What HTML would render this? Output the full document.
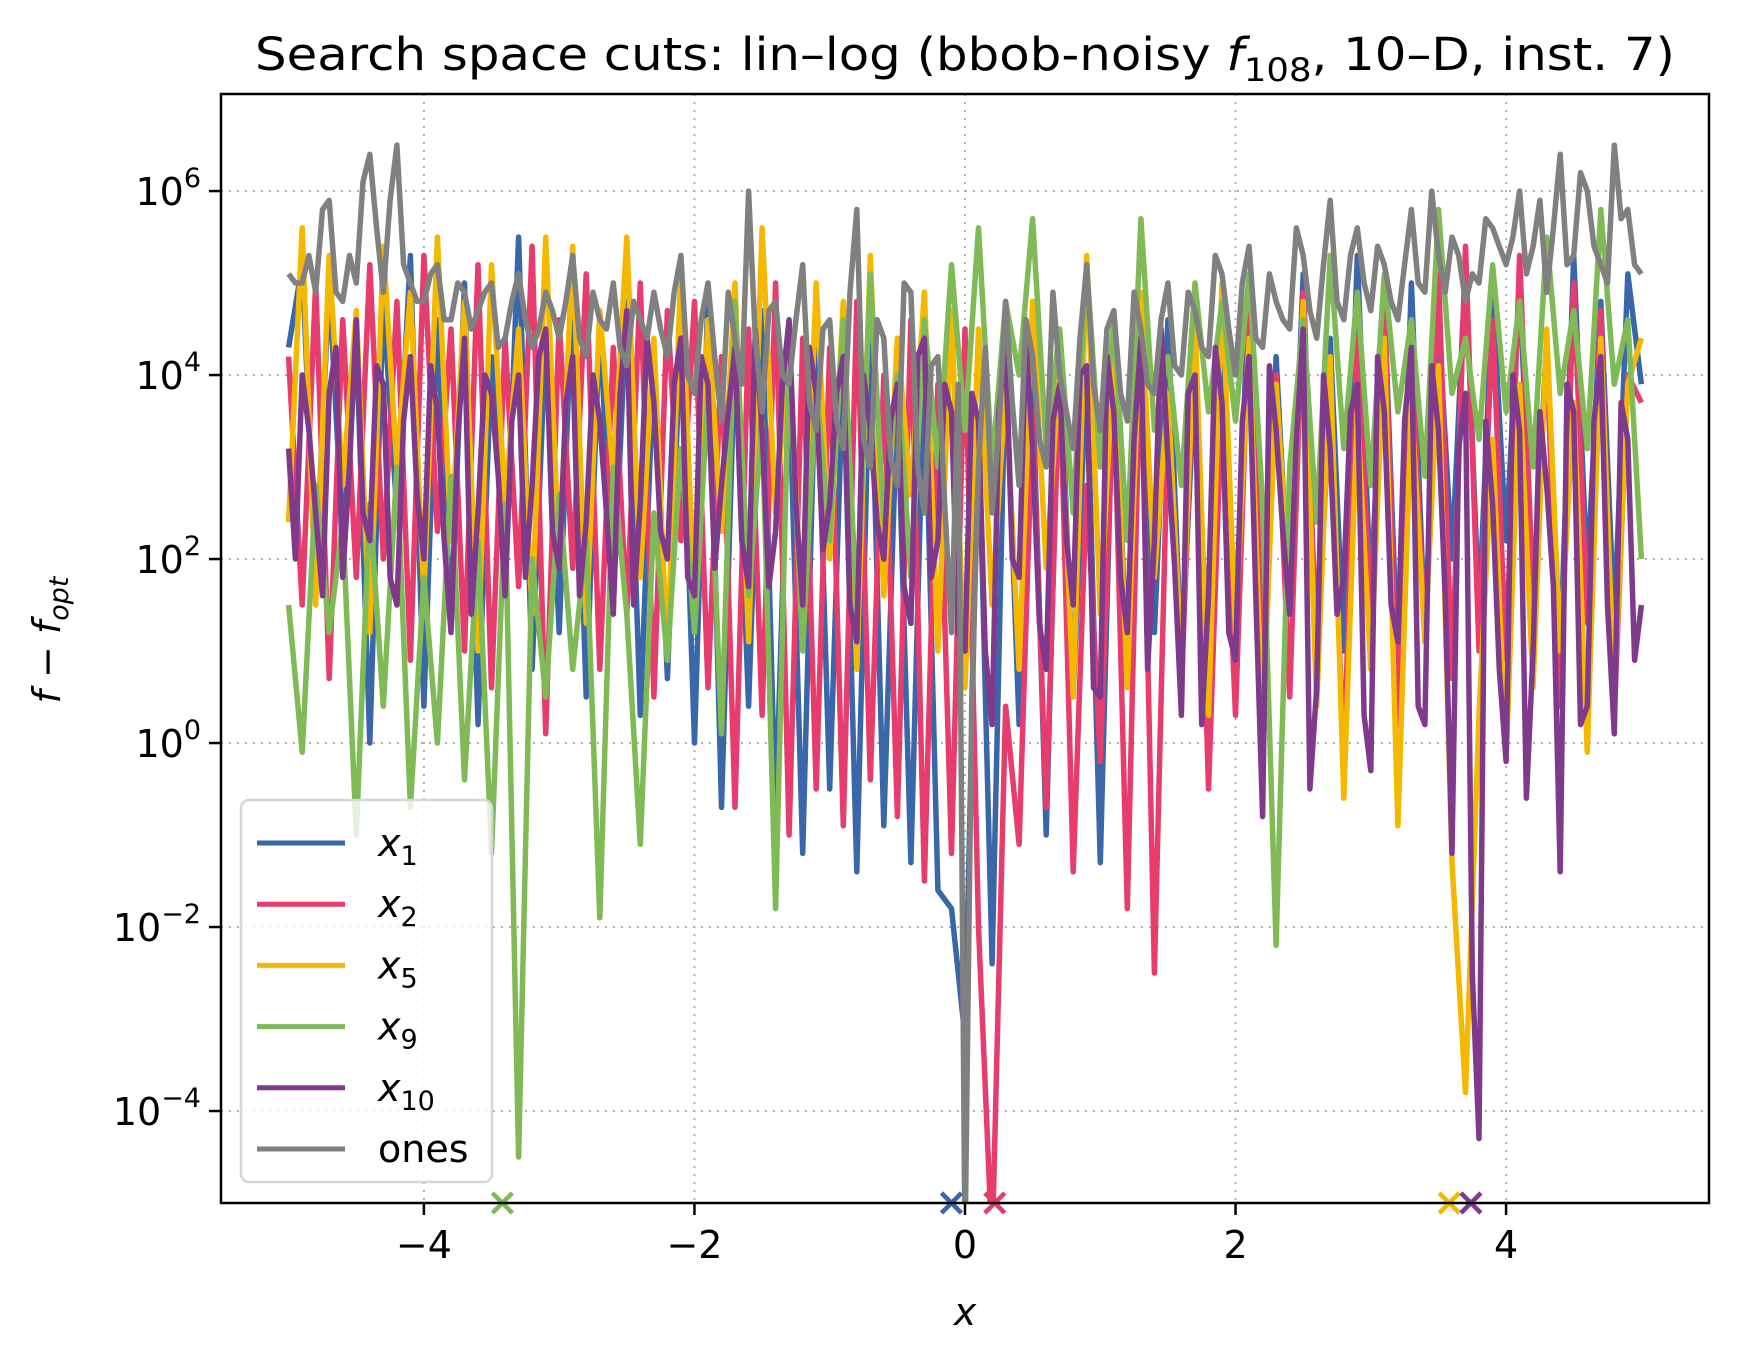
<!DOCTYPE html>
<html><head><meta charset="utf-8"><style>
html,body{margin:0;padding:0;background:#fff;}
svg{display:block;font-family:"DejaVu Sans","Liberation Sans",sans-serif;}
</style></head><body>
<svg id="chart" width="1738" height="1359" viewBox="0 0 1738 1359" xmlns="http://www.w3.org/2000/svg">
<text x="965" y="70" font-size="45" text-anchor="middle" textLength="1420" lengthAdjust="spacingAndGlyphs">Search space cuts: lin–log (bbob-noisy <tspan font-style="italic">f</tspan><tspan font-size="32" dy="11">108</tspan><tspan dy="-11">, 10–D, inst. 7)</tspan></text>
<defs><clipPath id="plotclip"><rect x="221" y="94" width="1488" height="1109"/></clipPath></defs>
<g id="grid"></g>
<g id="series" clip-path="url(#plotclip)"></g>
<g id="markers"></g>
<rect x="221" y="94" width="1488" height="1109" fill="none" stroke="#000" stroke-width="2.5"/>
<g id="axes"></g>
<text x="965" y="1325" font-size="38" font-style="italic" text-anchor="middle">x</text>
<text transform="translate(60,640) rotate(-90)" font-size="38" text-anchor="middle"><tspan font-style="italic">f</tspan> − <tspan font-style="italic">f</tspan><tspan font-size="27" dy="8" font-style="italic">opt</tspan></text>
<g id="legend"></g>
</svg>
<script>
const xTicks=[-4,-2,0,2,4];
const xTickLabels=["−4","−2","0","2","4"];
const yTickExps=[6,4,2,0,-2,-4];
const seriesNames=["x1","x2","x5","x9","x10","ones"];
const seriesColors=["#3a66aa","#e63c6e","#f5b800","#7fba57","#7f3a8c","#808080"];
const xStart=-5, xStep=0.1;
// values stored as log10(f - fopt)
const x1Log=[4.3,5.2,1.8,5.0,2.2,4.4,0.0,4.8,2.5,5.3, 0.4,4.6,1.3,5.0,0.2,4.2,1.7,5.5,0.8,4.4, 1.2,5.0,0.5,4.6,1.5,4.8,0.3,4.2,0.7,4.5, 0.0,4.9,-0.7,4.3,0.4,4.7,-0.8,4.0,-1.2,4.4, -0.5,4.1,-1.4,4.5,-0.9,3.8,-1.3,4.2,-1.6,-1.8, -3.2,3.5,-2.4,4.2,0.2,3.9,-1.0,4.4,0.5,4.1, -1.3,4.3,0.8,3.7,1.2,4.6,0.9,4.0,0.7,4.5, 1.3,5.0,0.6,4.2,1.4,5.1,0.5,4.4,1.0,5.3, 1.6,4.8,0.8,5.0,1.2,4.6,2.0,5.2,1.4,4.9, 2.2,5.0,1.5,4.4,0.9,5.3,1.8,4.8,1.3,5.1, 3.9];
const x2Log=[4.2,1.5,5.0,0.7,4.6,1.8,5.2,2.0,4.8,0.9, 5.3,2.3,4.5,1.0,5.2,0.6,4.4,1.7,5.4,0.1, 4.6,1.9,5.1,0.8,4.3,1.4,5.0,0.5,4.7,2.2, 4.8,0.6,4.2,-0.7,4.5,0.3,5.0,-1.0,4.4,-0.5, 4.3,-0.9,4.8,-0.4,4.0,-0.8,4.6,-1.5,3.9,-1.2, 4.5,-2.0,-5.5,0.4,-1.1,3.6,-0.7,4.1,-1.4,2.8, -0.2,3.9,-1.8,4.5,-2.5,3.5,0.6,4.6,-0.5,3.8, 0.3,4.7,1.2,4.0,0.5,4.9,1.0,3.7,-0.2,4.4, 1.4,4.8,0.2,4.3,1.1,5.1,0.7,5.4,1.0,4.6, 0.9,5.3,1.6,4.2,0.4,5.0,1.3,4.7,0.3,4.0, 3.7];
const x5Log=[2.4,5.6,1.5,5.3,2.8,4.7,1.2,5.4,3.0,4.9, 1.6,5.5,2.2,4.8,1.0,5.2,2.6,4.5,1.4,5.5, 2.0,5.4,1.3,4.7,2.9,5.5,1.8,4.4,0.9,5.2, 1.5,4.6,2.3,5.0,1.1,5.6,2.5,4.3,1.2,5.0, 2.0,4.8,0.8,5.3,1.6,4.4,2.7,4.9,1.0,4.7, 0.6,4.5,1.5,3.9,0.8,4.8,1.9,4.1,0.5,5.3, 1.4,4.3,0.6,4.9,1.8,3.8,0.9,4.6,0.3,5.0, 1.2,4.4,0.1,3.9,1.6,4.8,0.4,4.2,-0.6,3.6, 0.8,4.4,-0.9,3.7,1.1,4.1,-1.3,-3.8,0.3,3.3, -0.2,3.9,0.6,4.5,1.0,3.7,-0.1,4.4,0.5,3.9, 4.4];
const x9Log=[1.5,-0.1,2.8,1.2,2.4,-1.0,2.6,0.4,3.0,-0.7, 1.8,0.0,2.9,-0.4,2.2,-1.2,2.6,-4.5,2.0,0.5, 2.7,0.8,2.2,-1.9,3.0,1.4,-1.1,2.5,0.9,3.2, 1.2,3.8,0.1,4.8,1.6,3.5,-1.8,4.2,1.0,3.9, 2.2,4.6,1.4,5.1,2.4,4.0,1.8,4.6,3.0,5.2, 3.4,5.6,3.0,4.8,4.0,5.7,3.2,4.5,2.5,5.2, 3.0,4.6,2.2,5.7,3.4,4.2,2.8,5.0,3.6,4.8, 3.5,5.1,2.6,-2.2,3.0,4.6,2.4,5.3,3.2,4.9, 2.8,5.1,3.6,4.6,2.9,5.8,3.8,4.4,3.3,5.2, 3.6,4.8,3.0,5.5,3.8,4.7,3.2,5.8,3.9,4.6, 2.0];
const x10Log=[3.2,4.0,2.5,3.8,1.8,4.6,2.2,3.9,1.5,4.2, 2.0,3.6,1.2,4.4,2.5,3.8,1.6,4.0,2.8,4.5, 1.9,4.2,2.4,3.5,1.4,4.7,2.6,3.7,2.0,4.4, 1.6,3.9,2.8,4.3,1.7,3.4,2.3,4.6,1.5,3.8, 2.6,4.2,1.1,3.4,2.0,3.9,1.3,4.4,2.2,3.6, 1.0,3.5,0.2,4.3,1.8,3.2,0.8,3.9,1.5,4.1, 0.5,3.6,1.2,4.4,2.2,3.1,0.3,4.0,1.6,3.7, 0.9,4.2,-0.8,3.4,1.4,4.5,0.6,3.2,1.8,3.9, -0.3,3.6,1.1,4.3,0.2,3.4,-1.2,3.8,-4.3,2.6, -0.2,3.4,1.0,2.8,-1.4,3.6,0.4,4.2,0.1,3.3, 1.5];
// half-step samples (x = -4.95 ... 4.95)
const x10MidLog=[2.0,3.4,1.6,4.3,3.0,2.5,4.1,1.8,3.5,2.7, 4.1,2.2,3.3,1.4,4.0,2.9,3.5,1.8,4.2,2.3, 3.7,1.6,4.0,2.5,3.8,1.5,4.4,2.3,3.9,1.8, 4.2,1.9,3.6,2.2,4.5,1.7,3.9,2.6,4.3,2.1, 3.8,1.5,4.0,2.4,3.5,1.7,4.2,1.8,3.9,1.2, 3.8,1.0,3.6,2.0,4.4,1.3,3.5,2.2,4.0,0.6, 4.2,1.8,3.3,0.8,4.5,1.9,3.8,0.2,4.3,1.2, 3.5,1.6,4.1,2.3,3.3,-0.5,4.0,1.4,3.6,0.3, 4.2,1.5,3.5,0.4,4.1,1.6,3.2,-2.5,3.5,0.8, 4.0,-0.6,3.6,1.7,3.9,0.2,3.5,1.5,3.7,0.9];
const onesLog=[5.1,5.0,4.9,5.9,4.8,5.0,6.4,4.9,6.5,5.0, 4.8,5.2,4.6,4.9,4.7,5.0,4.4,5.1,4.3,4.9, 4.4,5.3,4.2,4.6,5.0,4.1,4.6,4.9,4.2,5.3, 3.8,5.0,3.5,4.4,6.0,3.6,4.8,3.9,5.2,3.4, 4.6,3.2,5.8,3.0,4.4,2.8,4.9,2.5,4.2,1.2, -5.5,3.0,2.5,4.8,2.8,4.2,3.0,4.0,3.2,5.2, 3.4,4.7,3.5,4.5,3.8,5.0,4.0,4.7,4.2,5.1, 4.0,5.4,4.3,4.8,4.5,5.3,4.4,5.9,4.6,5.6, 4.7,5.2,4.6,5.8,4.9,5.3,5.5,4.8,5.0,5.6, 5.2,6.0,5.4,4.9,6.4,5.3,6.0,5.2,6.5,5.8, 5.1];
const onesMidLog=[5.0,5.3,5.8,4.9,5.3,6.1,5.6,5.9,5.2,4.8, 5.1,4.6,5.0,4.5,4.9,4.3,4.8,4.6,4.5,4.7, 4.8,4.4,4.9,4.5,4.3,4.8,4.4,4.5,4.9,4.0, 4.6,4.2,4.9,3.9,4.4,4.7,4.0,4.6,3.7,4.5, 3.5,4.9,3.3,4.6,3.1,5.0,3.0,4.1,2.6,3.9, 0.5,4.3,3.4,3.7,4.6,3.3,4.9,3.6,4.4,3.9, 4.5,3.8,4.9,3.9,4.6,4.1,4.9,4.3,5.3,4.5, 5.0,4.4,5.1,4.6,5.6,4.7,5.2,4.8,5.3,5.0, 5.4,4.8,5.2,5.0,6.0,4.9,5.3,5.1,5.7,5.4, 5.5,5.1,5.9,5.6,5.2,6.2,5.4,5.0,5.7,5.2];
const optimumX=[-0.1,0.22,3.58,-3.42,3.74];
const allSeries=[x1Log,x2Log,x5Log,x9Log,x10Log,onesLog];
const allMid=[null,null,null,null,x10MidLog,onesMidLog];

const NS="http://www.w3.org/2000/svg";
const X0=221,X1=1709,Y0=94,Y1=1203,XMIN=-5.5,XMAX=5.5,LMIN=-5,LMAX=7.055;
function sx(v){return X0+(v-XMIN)/(XMAX-XMIN)*(X1-X0);}
function sy(l){return Y1-(l-LMIN)/(LMAX-LMIN)*(Y1-Y0);}
function mk(tag,attrs,parent){const e=document.createElementNS(NS,tag);for(const k in attrs)e.setAttribute(k,attrs[k]);parent.appendChild(e);return e;}
const grid=document.getElementById('grid'),axes=document.getElementById('axes');
xTicks.forEach((t,i)=>{
  const g=mk('line',{x1:sx(t),x2:sx(t),y1:Y0,y2:Y1,stroke:'#b0b0b0','stroke-width':2,'stroke-dasharray':'2,6'},grid);
  
  
  const tk=mk('line',{x1:sx(t),x2:sx(t),y1:Y1,y2:Y1+12,stroke:'#000','stroke-width':2.5},axes);
  
  
  const tl=mk('text',{x:sx(t),y:Y1+55,'font-size':38,'text-anchor':'middle'},axes);
  
  
  tl.textContent=xTickLabels[i];
});
yTickExps.forEach(e=>{
  const y=sy(e);
  const g=mk('line',{x1:X0,x2:X1,y1:y,y2:y,stroke:'#b0b0b0','stroke-width':2,'stroke-dasharray':'2,6'},grid);
  
  
  const tk=mk('line',{x1:X0-12,x2:X0,y1:y,y2:y,stroke:'#000','stroke-width':2.5},axes);
  
  
  const tl=mk('text',{x:X0-20,y:y+14,'font-size':38,'text-anchor':'end'},axes);
  
  
  tl.textContent='10';
  const sp=mk('tspan',{'font-size':27,dy:-18},tl);
  sp.textContent=(e<0?'−':'')+Math.abs(e);
});
const sg=document.getElementById('series');
allSeries.forEach((arr,si)=>{
  const pts=[];
  arr.forEach((l,i)=>{
    pts.push(sx(xStart+i*xStep).toFixed(1)+','+sy(l).toFixed(1));
    const mid=allMid[si];
    if(mid && i<mid.length) pts.push(sx(xStart+(i+0.5)*xStep).toFixed(1)+','+sy(mid[i]).toFixed(1));
  });
  const p=mk('polyline',{points:pts.join(' '),fill:'none',stroke:seriesColors[si],'stroke-width':5.5,'stroke-linejoin':'round'},sg);
  
  
});
const mg=document.getElementById('markers');
optimumX.forEach((v,i)=>{
  const cx=sx(v),cy=Y1,r=10;
  const m=mk('path',{d:`M${cx-r},${cy-r}L${cx+r},${cy+r}M${cx-r},${cy+r}L${cx+r},${cy-r}`,stroke:seriesColors[i],'stroke-width':4.5},mg);
  
  
});
const lg=document.getElementById('legend');
const box=mk('rect',{x:241,y:800,width:251,height:382,rx:8,fill:'#fff','fill-opacity':0.8,stroke:'#d6d6d6','stroke-width':2.5},lg);


const labelSubs=["1","2","5","9","10",null];
seriesNames.forEach((n,i)=>{
  const y=843+i*61.2;
  const l=mk('line',{x1:257,x2:345,y1:y,y2:y,stroke:seriesColors[i],'stroke-width':5},lg);
  
  
  const t=mk('text',{x:378,y:y+13,'font-size':38},lg);
  
  
  if(labelSubs[i]){
    const a=mk('tspan',{'font-style':'italic'},t);a.textContent='x';
    const b=mk('tspan',{'font-size':27,dy:9},t);b.textContent=labelSubs[i];
  } else t.textContent='ones';
});
</script>
</body></html>
